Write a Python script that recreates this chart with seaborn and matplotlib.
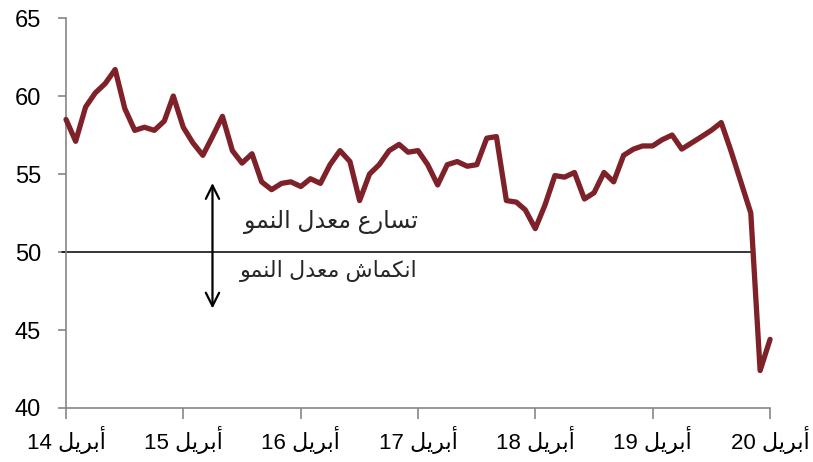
import matplotlib
matplotlib.use('Agg')
import matplotlib.pyplot as plt
import matplotlib.dates as mdates
import seaborn as sns
import pandas as pd

# Monthly PMI readings, April 2014 .. April 2020
start_month = '2014-04-01'
pmi = [58.5, 57.1, 59.3, 60.2, 60.8, 61.7, 59.2, 57.8, 58.0, 57.8, 58.4, 60.0,
       58.0, 57.0, 56.2, 57.4, 58.7, 56.5, 55.7, 56.3, 54.5, 54.0, 54.4, 54.5,
       54.2, 54.7, 54.4, 55.6, 56.5, 55.8, 53.3, 55.0, 55.6, 56.5, 56.9, 56.4,
       56.5, 55.6, 54.3, 55.6, 55.8, 55.5, 55.6, 57.3, 57.4, 53.3, 53.2, 52.7,
       51.5, 53.0, 54.9, 54.8, 55.1, 53.4, 53.8, 55.1, 54.5, 56.2, 56.6, 56.8,
       56.8, 57.2, 57.5, 56.6, 57.0, 57.4, 57.8, 58.3, 56.5, 54.5, 52.5, 42.4,
       44.4]
tick_years = [14, 15, 16, 17, 18, 19, 20]
y_ticks = [40, 45, 50, 55, 60, 65]
threshold = 50
label_up = 'تسارع معدل النمو'
label_down = 'انكماش معدل النمو'
month_word = 'أبريل'

# matplotlib does no Arabic shaping, so pick the contextual forms by hand
FORMS = {
    'ا': ('\uFE8D', '\uFE8E', None, None),
    'أ': ('\uFE83', '\uFE84', None, None),
    'د': ('\uFEA9', '\uFEAA', None, None),
    'ر': ('\uFEAD', '\uFEAE', None, None),
    'و': ('\uFEED', '\uFEEE', None, None),
    'ب': ('\uFE8F', '\uFE90', '\uFE91', '\uFE92'),
    'ت': ('\uFE95', '\uFE96', '\uFE97', '\uFE98'),
    'س': ('\uFEB1', '\uFEB2', '\uFEB3', '\uFEB4'),
    'ش': ('\uFEB5', '\uFEB6', '\uFEB7', '\uFEB8'),
    'ع': ('\uFEC9', '\uFECA', '\uFECB', '\uFECC'),
    'ك': ('\uFED9', '\uFEDA', '\uFEDB', '\uFEDC'),
    'ل': ('\uFEDD', '\uFEDE', '\uFEDF', '\uFEE0'),
    'م': ('\uFEE1', '\uFEE2', '\uFEE3', '\uFEE4'),
    'ن': ('\uFEE5', '\uFEE6', '\uFEE7', '\uFEE8'),
    'ي': ('\uFEF1', '\uFEF2', '\uFEF3', '\uFEF4'),
}


def shape(text):
    out = []
    for i, ch in enumerate(text):
        f = FORMS.get(ch)
        if f is None:
            out.append(ch)
            continue
        prev = text[i - 1] if i > 0 else ''
        nxt = text[i + 1] if i + 1 < len(text) else ''
        joins_prev = prev in FORMS and FORMS[prev][2] is not None
        joins_next = f[2] is not None and nxt in FORMS
        if joins_prev and joins_next:
            out.append(f[3])
        elif joins_prev:
            out.append(f[1])
        elif joins_next:
            out.append(f[2])
        else:
            out.append(f[0])
    return ''.join(reversed(out))


df = pd.DataFrame({
    'date': pd.date_range(start_month, periods=len(pmi), freq='MS'),
    'pmi': pmi,
})

sns.set_style('ticks')
plt.rcParams['font.family'] = ['Liberation Sans', 'DejaVu Sans']

fig = plt.figure(figsize=(8.13, 4.62), dpi=100)
ax = fig.add_axes([0.0812, 0.1169, 0.866, 0.844])

sns.lineplot(data=df, x='date', y='pmi', ax=ax, color='#7f2129',
             linewidth=3.8, solid_joinstyle='round', solid_capstyle='round',
             zorder=3)
ax.lines[0].set_clip_on(False)

ax.axhline(threshold, xmin=-0.006, xmax=0.976, color='black', lw=1.1,
           clip_on=False, zorder=2)

# double arrow and the two captions
arrow_x = mdates.date2num(pd.Timestamp('2015-07-01'))
ax.annotate('', xy=(arrow_x, 54.6), xytext=(arrow_x, 46.2),
            arrowprops=dict(arrowstyle='<->', color='black', lw=1.6,
                            mutation_scale=24))
text_x = mdates.date2num(pd.Timestamp('2017-04-01'))
ax.text(text_x, 51.9, shape(label_up), ha='right', va='center', fontsize=17)
ax.text(text_x, 48.8, shape(label_down), ha='right', va='center', fontsize=16)

tick_dates = [pd.Timestamp(f'20{yy}-04-01') for yy in tick_years]
ax.set_xticks(tick_dates)
ax.set_xticklabels([f'{yy} ' + shape(month_word) for yy in tick_years])
ax.set_xlim(tick_dates[0], tick_dates[-1])
ax.set_ylim(y_ticks[0], y_ticks[-1])
ax.set_yticks(y_ticks)
ax.set_xlabel('')
ax.set_ylabel('')

sns.despine(ax=ax)
for side in ['left', 'bottom']:
    ax.spines[side].set_color('#868686')
    ax.spines[side].set_linewidth(1.2)
ax.tick_params(axis='both', colors='#868686', width=1.2, labelcolor='black')
ax.tick_params(axis='x', length=8, pad=5, labelsize=16)
ax.tick_params(axis='y', length=6, pad=12, labelsize=17)

fig.savefig('out.png', dpi=100)
